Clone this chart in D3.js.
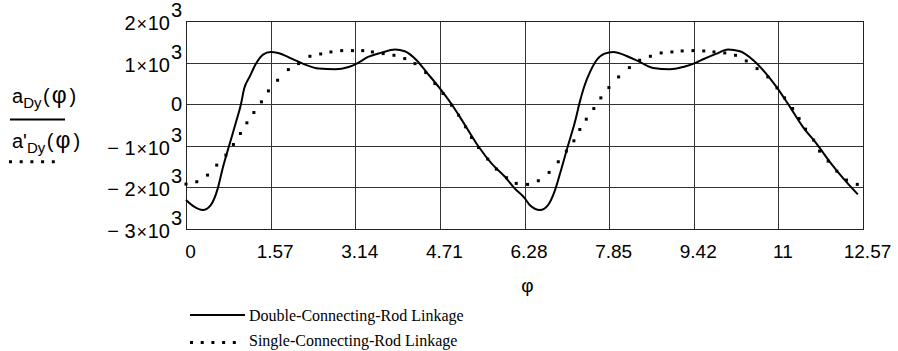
<!DOCTYPE html>
<html>
<head>
<meta charset="utf-8">
<script src="https://cdn.jsdelivr.net/npm/d3@7"></script>
<style>
  body { margin: 0; background: #fff; }
  svg { display: block; }
  text { font-family: "Liberation Sans", Arial, sans-serif; fill: #000; }
  .serif { font-family: "Liberation Serif", "Times New Roman", serif; }
</style>
</head>
<body>
<svg id="chart"></svg>
<script>
// axis ticks
const xTicks = [0, 1.5708, 3.1416, 4.7124, 6.2832, 7.854, 9.4248, 10.9956, 12.5664];
const xTickLabels = ["0", "1.57", "3.14", "4.71", "6.28", "7.85", "9.42", "11", "12.57"];
const yTicks = [2000, 1000, 0, -1000, -2000, -3000];
const yTickLabels = ["2", "1", "0", "\u2212 1", "\u2212 2", "\u2212 3"];

// a_Dy(phi), double-connecting-rod linkage (solid)
const phiDouble = [0, 0.15, 0.31, 0.46, 0.59, 0.68, 0.80, 0.93, 1.02, 1.08,
  1.18, 1.30, 1.43, 1.57, 1.71, 1.96, 2.21, 2.46, 2.77, 3.02,
  3.17, 3.38, 3.63, 3.88, 4.06, 4.28, 4.46, 4.69, 4.93, 5.18,
  5.42, 5.67, 5.92, 6.10, 6.29, 6.38, 6.57, 6.72, 6.85, 6.97,
  7.09, 7.22, 7.31, 7.40, 7.50, 7.62, 7.77, 7.93, 8.18, 8.42,
  8.67, 8.98, 9.23, 9.47, 9.60, 9.85, 10.06, 10.28, 10.53, 10.74,
  10.96, 11.21, 11.45, 11.70, 11.95, 12.20, 12.47];
const aDouble = [-2304, -2464, -2544, -2424, -2024, -1544, -1000, -424, 0, 376,
  656, 976, 1192, 1256, 1232, 1096, 952, 856, 840, 896,
  976, 1136, 1240, 1312, 1272, 1056, 776, 416, 0, -504,
  -1000, -1424, -1744, -2024, -2264, -2424, -2544, -2424, -2064, -1544,
  -1000, -424, 56, 456, 776, 1056, 1216, 1256, 1160, 1016,
  872, 840, 896, 1000, 1080, 1216, 1312, 1272, 1056, 776,
  416, -64, -544, -944, -1384, -1784, -2168];

// a'_Dy(phi), single-connecting-rod linkage (dotted)
const phiSingle = [0, 0.20, 0.40, 0.57, 0.74, 0.88, 1.01, 1.13, 1.26, 1.40,
  1.53, 1.70, 1.90, 2.09, 2.30, 2.50, 2.69, 2.89, 3.09, 3.28,
  3.46, 3.66, 3.86, 4.06, 4.25, 4.45, 4.62, 4.77, 4.93, 5.06,
  5.19, 5.30, 5.43, 5.60, 5.76, 5.95, 6.13, 6.34, 6.54, 6.74,
  6.91, 7.06, 7.20, 7.31, 7.43, 7.57, 7.70, 7.85, 8.03, 8.23,
  8.42, 8.62, 8.82, 9.02, 9.21, 9.41, 9.61, 9.80, 10.00, 10.20,
  10.40, 10.60, 10.80, 10.97, 11.11, 11.26, 11.38, 11.50, 11.65, 11.76,
  11.92, 12.08, 12.26, 12.46];
const aSingle = [-1920, -1864, -1704, -1464, -1224, -968, -704, -448, -200, 56,
  320, 576, 832, 976, 1152, 1208, 1256, 1288, 1288, 1288,
  1256, 1216, 1176, 1096, 976, 760, 496, 256, -24, -264,
  -544, -800, -1040, -1320, -1560, -1768, -1904, -1928, -1840, -1640,
  -1384, -1128, -880, -608, -360, -104, 152, 400, 656, 880,
  1056, 1152, 1232, 1256, 1280, 1288, 1280, 1256, 1232, 1176,
  1040, 856, 656, 392, 152, -104, -344, -600, -864, -1128,
  -1368, -1608, -1824, -1928];

const legendLabels = ["Double-Connecting-Rod Linkage", "Single-Connecting-Rod Linkage"];

const width = 898, height = 351;
const margin = { top: 21, right: 35, bottom: 122, left: 186 };

const svg = d3.select("#chart").attr("width", width).attr("height", height);

const x = d3.scaleLinear().domain([0, 12.5664]).range([margin.left, width - margin.right]);
const y = d3.scaleLinear().domain([-3000, 2000]).range([height - margin.bottom, margin.top]);

// grid lines
svg.append("g")
  .attr("transform", `translate(0,${height - margin.bottom})`)
  .call(d3.axisBottom(x).tickValues(xTicks).tickSize(-(height - margin.top - margin.bottom)).tickFormat(""))
  .call(g => g.select(".domain").remove())
  .call(g => g.selectAll("line").attr("stroke", "#333").attr("shape-rendering", "crispEdges"));

svg.append("g")
  .attr("transform", `translate(${margin.left},0)`)
  .call(d3.axisLeft(y).tickValues(yTicks).tickSize(-(width - margin.left - margin.right)).tickFormat(""))
  .call(g => g.select(".domain").remove())
  .call(g => g.selectAll("line").attr("stroke", "#333").attr("shape-rendering", "crispEdges"));

svg.append("rect")
  .attr("x", margin.left).attr("y", margin.top)
  .attr("width", width - margin.left - margin.right)
  .attr("height", height - margin.top - margin.bottom)
  .attr("fill", "none").attr("stroke", "#222").attr("shape-rendering", "crispEdges");

// x tick labels
svg.append("g").selectAll("text")
  .data(xTicks)
  .join("text")
  .attr("x", d => x(d) + 4.5)
  .attr("y", height - margin.bottom + 29)
  .attr("text-anchor", "middle")
  .attr("font-size", "19px")
  .text((d, i) => xTickLabels[i]);

// y tick labels, n x 10^3
const yLabels = svg.append("g").selectAll("text")
  .data(yTicks)
  .join("text")
  .attr("x", margin.left - 4)
  .attr("y", d => y(d) + (d === 0 ? 6.5 : 9))
  .attr("text-anchor", "end")
  .attr("font-size", "20px");

yLabels.each(function (d, i) {
  const t = d3.select(this);
  if (d === 0) { t.text(yTickLabels[i]); return; }
  t.append("tspan").text(yTickLabels[i]);
  t.append("tspan").attr("font-size", "18px").attr("dx", 1).text("\u00d7");
  t.append("tspan").attr("dx", 0.5).text("10");
  t.append("tspan").attr("dy", -13).attr("dx", 1).text("3");
});

// x axis title
svg.append("text")
  .attr("x", (margin.left + width - margin.right) / 2 + 3)
  .attr("y", 292)
  .attr("text-anchor", "middle")
  .attr("font-size", "19px")
  .text("\u03c6");

// curves
const doubleData = phiDouble.map((p, i) => ({ phi: p, a: aDouble[i] }));
const singleData = phiSingle.map((p, i) => ({ phi: p, a: aSingle[i] }));

svg.append("path")
  .datum(doubleData)
  .attr("fill", "none")
  .attr("stroke", "#000")
  .attr("stroke-width", 2)
  .attr("d", d3.line().x(d => x(d.phi)).y(d => y(d.a)).curve(d3.curveMonotoneX));

svg.append("g").selectAll("rect")
  .data(singleData)
  .join("rect")
  .attr("x", d => x(d.phi) - 1.5)
  .attr("y", d => y(d.a) - 1.5)
  .attr("width", 3)
  .attr("height", 3)
  .attr("fill", "#000");

// left legend: a_Dy(phi) / a'_Dy(phi)
function mathLabel(prime, yy) {
  const t = svg.append("text").attr("x", 12).attr("y", yy).attr("font-size", "20px");
  t.append("tspan").text(prime ? "a'" : "a");
  t.append("tspan").attr("font-size", "15px").attr("dy", 5).text("Dy");
  t.append("tspan").attr("dy", -5).attr("dx", 1.5).text("(");
  t.append("tspan").attr("dx", 2).attr("font-size", "23px").text("\u03c6");
  t.append("tspan").attr("dx", 3).text(")");
}
mathLabel(false, 103);
svg.append("line")
  .attr("x1", 10).attr("x2", 65).attr("y1", 119.5).attr("y2", 119.5)
  .attr("stroke", "#000").attr("stroke-width", 2);
mathLabel(true, 148);
svg.append("line")
  .attr("x1", 9).attr("x2", 56).attr("y1", 161.7).attr("y2", 161.7)
  .attr("stroke", "#000").attr("stroke-width", 3).attr("stroke-dasharray", "3,7.7");

// bottom legend
const legend = svg.append("g").selectAll("g")
  .data(legendLabels)
  .join("g")
  .attr("transform", (d, i) => `translate(190,${315 + i * 27.5})`);

legend.append("line")
  .attr("x1", 0)
  .attr("x2", (d, i) => (i === 0 ? 55 : 46))
  .attr("stroke", "#000")
  .attr("stroke-width", (d, i) => (i === 0 ? 2 : 3))
  .attr("stroke-dasharray", (d, i) => (i === 0 ? null : "3,7.7"));

legend.append("text")
  .attr("class", "serif")
  .attr("x", 59)
  .attr("y", (d, i) => (i === 0 ? 5.7 : 3.8))
  .attr("font-size", "16px")
  .text(d => d);
</script>
</body>
</html>
